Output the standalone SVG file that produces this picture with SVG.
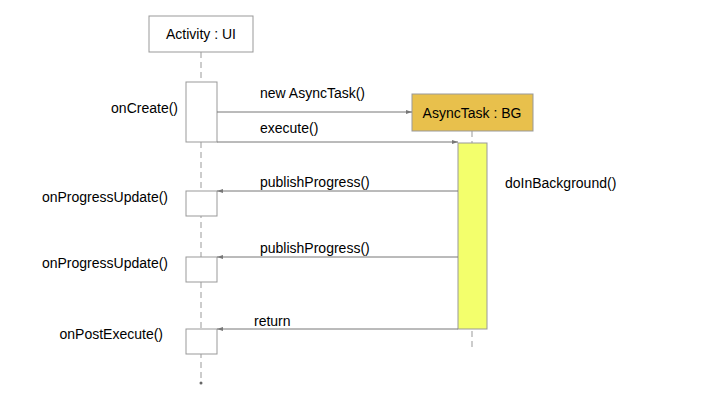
<svg xmlns="http://www.w3.org/2000/svg" width="720" height="405" viewBox="0 0 720 405">
<defs>
<style>
text{font-family:"Liberation Sans",Arial,sans-serif;font-size:14px;fill:#000}
.box{fill:#fff;stroke:#999;stroke-width:1}
.life{stroke:#999;stroke-width:1;stroke-dasharray:6,4;fill:none}
.msg{stroke:#777;stroke-width:1;fill:none;marker-end:url(#arr)}
</style>
<marker id="arr" viewBox="0 0 6 6" refX="6" refY="3" markerWidth="6" markerHeight="6" orient="auto" markerUnits="userSpaceOnUse">
<path d="M0,1 L6,3 L0,5 z" fill="#777"/>
</marker>
</defs>
<rect width="720" height="405" fill="#fff"/>
<g id="activity">
<line class="life" x1="201" y1="52" x2="201" y2="383"/>
<circle cx="201" cy="383" r="1.5" fill="#666"/>
<rect class="box" x="149" y="16" width="104" height="36"/>
<text x="201" y="39" text-anchor="middle">Activity : UI</text>
<rect class="box" x="186" y="82" width="31" height="60"/>
<rect class="box" x="186" y="191" width="31" height="25"/>
<rect class="box" x="186" y="257" width="31" height="25"/>
<rect class="box" x="186" y="329" width="31" height="25"/>
<text x="178" y="113" text-anchor="end">onCreate()</text>
<text x="168" y="202" text-anchor="end">onProgressUpdate()</text>
<text x="168" y="268" text-anchor="end">onProgressUpdate()</text>
<text x="163" y="339" text-anchor="end">onPostExecute()</text>
</g>
<g id="asynctask">
<line class="life" x1="472" y1="131" x2="472" y2="351"/>
<rect x="412" y="94" width="121" height="37" fill="#E8C04C" stroke="#999"/>
<text x="472" y="118" text-anchor="middle">AsyncTask : BG</text>
<rect x="458" y="143" width="29" height="186" fill="#F3FF6C" stroke="#999"/>
<text x="505" y="188">doInBackground()</text>
</g>
<g id="connectors">
<line class="msg" x1="217" y1="112" x2="412" y2="112"/>
<text x="260" y="98">new AsyncTask()</text>
<line class="msg" x1="217" y1="142" x2="458" y2="142"/>
<text x="260" y="133">execute()</text>
<line class="msg" x1="458" y1="191" x2="217" y2="191"/>
<text x="260" y="187">publishProgress()</text>
<line class="msg" x1="458" y1="257" x2="217" y2="257"/>
<text x="260" y="253">publishProgress()</text>
<line class="msg" x1="458" y1="329" x2="217" y2="329"/>
<text x="254" y="326">return</text>
</g>
</svg>
